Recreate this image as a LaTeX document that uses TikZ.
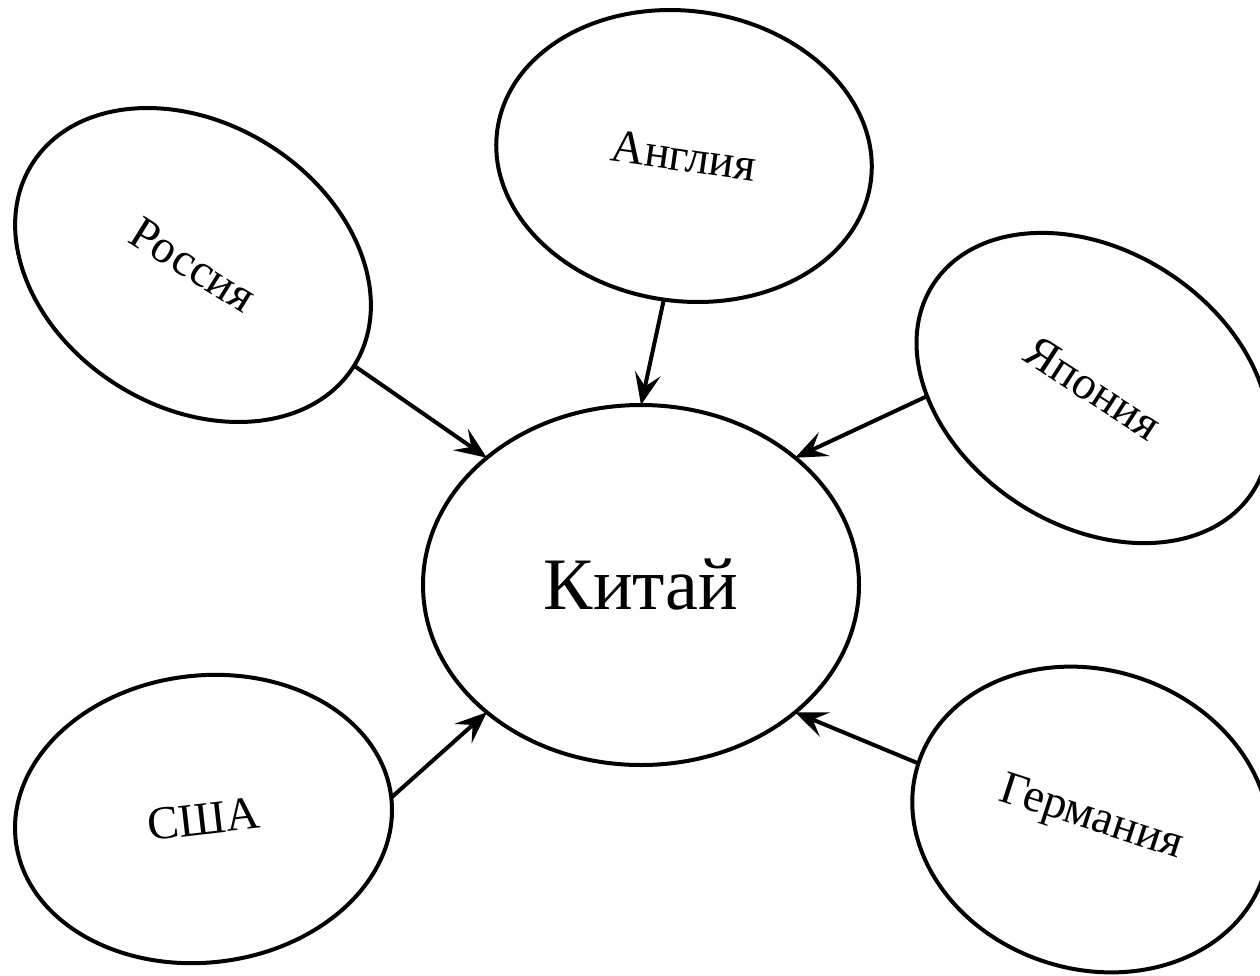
\documentclass[tikz,border=0pt]{standalone}
\usepackage{fontspec}
\setmainfont{Liberation Serif}
\usetikzlibrary{shapes.geometric,arrows.meta}
\tikzset{
  country/.style={ellipse, draw, line width=4pt, inner sep=0pt, outer sep=0pt,
    font=\fontsize{47}{56}\selectfont},
  link/.style={line width=4pt, -{Stealth[length=32pt,width=26pt,inset=13pt]}}
}
\begin{document}
\begin{tikzpicture}[x=1pt,y=-1pt]
\useasboundingbox (0,0) rectangle (1260,975);
\node[country, minimum width=436pt, minimum height=360pt, font=\fontsize{74}{88}\selectfont] (china) at (641,585) {Китай};
\node[country, minimum width=380pt, minimum height=284pt, rotate=-32] (russia) at (193,265) {Россия};
\node[country, minimum width=377pt, minimum height=290pt, rotate=-8] (england) at (684,156) {Англия};
\node[country, minimum width=381pt, minimum height=275pt, rotate=-33] (japan) at (1093,388) {Япония};
\node[country, minimum width=378pt, minimum height=287pt, rotate=6.5] (usa) at (203.5,819) {США};
\node[country, minimum width=363pt, minimum height=299pt, rotate=-18] (germany) at (1091,819.5) {Германия};
\draw[link] (russia.east) -- (china.north west);
\draw[link] (england.south) -- (china.north);
\draw[link] (japan.south west) -- (china.north east);
\draw[link] (usa.east) -- (china.south west);
\draw[link] (germany.west) -- (china.south east);
\end{tikzpicture}
\end{document}
